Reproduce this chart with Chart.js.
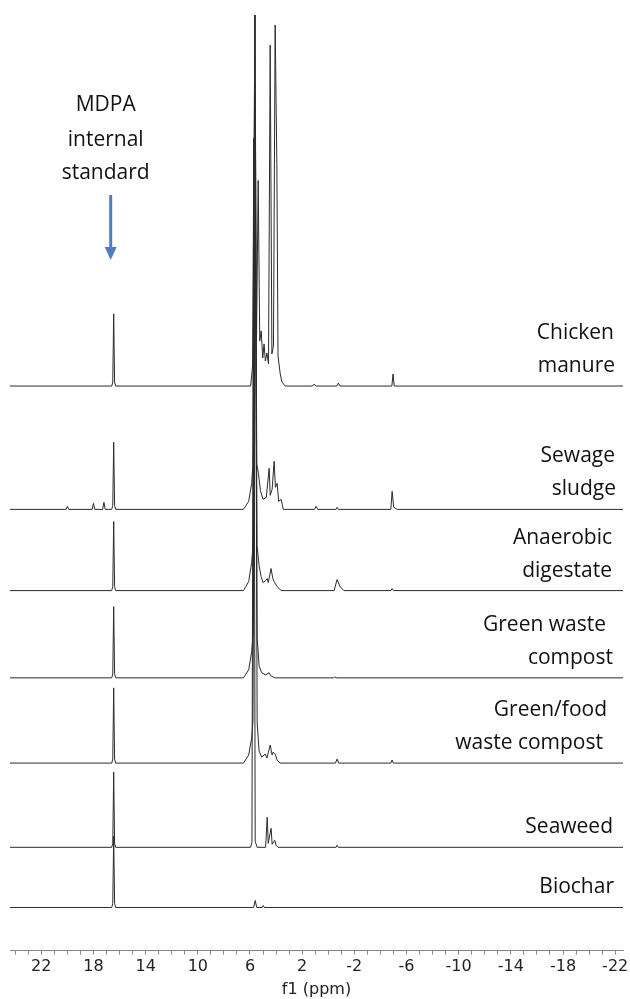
<!DOCTYPE html>
<html>
<head>
<meta charset="utf-8">
<script src="https://cdn.jsdelivr.net/npm/chart.js@4"></script>
<style>
  html, body { margin: 0; padding: 0; background: #fff; }
  #wrap { width: 630px; height: 999px; position: relative; }
</style>
</head>
<body>
<div id="wrap"><canvas id="nmrChart"></canvas></div>
<script>
// 31P NMR spectra, [ppm, intensity above own baseline]
const ppmRange = [-22.6, 24.4];
const tickLabels = [22, 18, 14, 10, 6, 2, -2, -6, -10, -14, -18, -22];

const sampleNames = ["Chicken manure", "Sewage sludge", "Anaerobic digestate",
  "Green waste compost", "Green/food waste compost", "Seaweed", "Biochar"];

const labelLines = [
  ["Chicken", "manure"],
  ["Sewage", "sludge"],
  ["Anaerobic", "digestate"],
  ["Green waste", "compost"],
  ["Green/food", "waste compost"],
  ["Seaweed"],
  ["Biochar"]
];

const chickenManure = [[24.4,0],[16.6,0],[16.52,4],[16.45,72],[16.38,4],[16.3,0],[5.95,0],[5.8,20],[5.62,370],[5.5,45],[5.37,205],[5.25,45],[5.14,55],[5.02,28],[4.92,42],[4.82,25],[4.7,33],[4.58,22],[4.45,340],[4.32,32],[4.2,40],[4.07,360],[3.94,222],[3.85,30],[3.68,12],[3.55,4],[3.3,0],[1.2,0],[1.08,2],[0.95,0],[-0.65,0],[-0.78,3],[-0.9,0],[-4.88,0],[-4.97,12],[-5.06,0],[-22.6,0]];
const sewageSludge = [[24.4,0],[20.1,0],[20.0,3],[19.9,0],[18.1,0],[18.0,6],[17.9,0],[17.3,0],[17.2,7],[17.1,0],[16.6,0],[16.52,4],[16.45,67],[16.38,4],[16.3,0],[6.5,0],[6.1,8],[5.87,26],[5.77,45],[5.62,493],[5.48,45],[5.35,36],[5.2,19],[5.0,10],[4.75,12],[4.53,41],[4.45,14],[4.3,20],[4.15,48],[4.05,22],[3.92,26],[3.8,8],[3.61,10],[3.45,0],[1.05,0],[0.93,3],[0.8,0],[-0.6,0],[-0.68,2],[-0.78,0],[-4.8,0],[-4.9,18],[-5.02,2],[-5.3,0],[-22.6,0]];
const anaerobicDigestate = [[24.4,0],[16.6,0],[16.52,4],[16.45,69],[16.38,4],[16.3,0],[6.5,0],[6.1,9],[5.87,28],[5.77,45],[5.6,451],[5.46,45],[5.3,25],[5.15,14],[5.0,8],[4.8,10],[4.68,12],[4.6,8],[4.38,22],[4.25,12],[4.15,9],[3.92,4],[3.6,0],[-0.45,0],[-0.68,11],[-0.9,4],[-1.2,0],[-4.8,0],[-4.9,2],[-5.0,0],[-22.6,0]];
const greenWasteCompost = [[24.4,0],[16.6,0],[16.52,4],[16.45,71],[16.38,4],[16.3,0],[6.5,0],[6.1,8],[5.87,26],[5.77,42],[5.58,456],[5.45,40],[5.3,12],[5.1,5],[4.8,3],[4.53,5],[4.4,2],[4.1,0],[-0.4,0],[-0.5,1],[-0.6,0],[-22.6,0]];
const greenFoodCompost = [[24.4,0],[16.6,0],[16.52,4],[16.45,75],[16.38,4],[16.3,0],[6.5,0],[6.1,8],[5.87,25],[5.77,42],[5.6,581],[5.45,40],[5.3,12],[5.1,6],[4.83,9],[4.7,5],[4.45,18],[4.3,8],[4.22,11],[4.07,9],[3.92,3],[3.7,0],[-0.55,0],[-0.68,4],[-0.8,0],[-4.8,0],[-4.9,3],[-5.0,0],[-22.6,0]];
const seaweed = [[24.4,0],[16.6,0],[16.52,4],[16.45,75],[16.38,4],[16.3,0],[5.95,0],[5.85,5],[5.72,707],[5.6,6],[5.45,0],[4.8,0],[4.68,30],[4.6,4],[4.38,19],[4.3,3],[4.1,7],[4.0,2],[3.85,0],[-0.6,0],[-0.68,2],[-0.78,0],[-22.6,0]];
const biochar = [[24.4,0],[16.6,0],[16.52,4],[16.45,71],[16.38,4],[16.3,0],[5.72,0],[5.6,7],[5.48,0],[5.05,0],[4.98,2],[4.9,0],[-22.6,0]];

const spectra = [chickenManure, sewageSludge, anaerobicDigestate, greenWasteCompost,
  greenFoodCompost, seaweed, biochar];

// vertical stacking of the traces (same units as intensity)
const stackOffsets = [563, 440, 359, 272, 187, 103, 43];
// right edge of each label line, px
const labelRight = [[614, 615], [615, 616], [612, 612], [606, 613], [607, 603], [613], [614]];

const annotations = {
  id: "annotations",
  afterDraw(chart) {
    const ctx = chart.ctx;
    const xs = chart.scales.x, ys = chart.scales.y;
    ctx.save();
    ctx.fillStyle = "#111";
    ctx.font = '21px "Open Sans"';
    ctx.textBaseline = "middle";
    ctx.textAlign = "right";
    labelLines.forEach((lines, i) => {
      const base = ys.getPixelForValue(stackOffsets[i]);
      const n = lines.length;
      lines.forEach((t, j) => {
        const dy = n === 2 ? (j === 0 ? -53 : -20) : -20;
        ctx.fillText(t, labelRight[i][j], base + dy);
      });
    });

    // MDPA note and arrow
    const px = xs.getPixelForValue(16.45);
    ctx.textAlign = "center";
    ctx.fillText("MDPA", px - 8, 105);
    ctx.fillText("internal", px - 8, 140);
    ctx.fillText("standard", px - 8, 173);
    const ax = px - 3;
    ctx.strokeStyle = "#4f7fbe";
    ctx.fillStyle = "#4f7fbe";
    ctx.lineWidth = 3;
    ctx.beginPath();
    ctx.moveTo(ax, 195);
    ctx.lineTo(ax, 250);
    ctx.stroke();
    ctx.beginPath();
    ctx.moveTo(ax - 6, 247);
    ctx.lineTo(ax + 6, 247);
    ctx.lineTo(ax, 260);
    ctx.closePath();
    ctx.fill();
    ctx.restore();
  }
};

function createSpectraChart() {
  const ctx = document.getElementById("nmrChart").getContext("2d");
  const datasets = spectra.map((s, i) => ({
    label: sampleNames[i],
    data: s.map(p => ({ x: p[0], y: p[1] + stackOffsets[i] })),
    borderColor: "#2b2b2b",
    borderWidth: 1,
    pointRadius: 0,
    tension: 0,
    fill: false
  }));

  new Chart(ctx, {
    type: "line",
    data: { datasets: datasets },
    options: {
      responsive: true,
      maintainAspectRatio: false,
      animation: false,
      layout: { padding: { left: 10, right: 7, top: 10, bottom: 0 } },
      plugins: { legend: { display: false }, tooltip: { enabled: false } },
      scales: {
        x: {
          type: "linear",
          reverse: true,
          min: ppmRange[0],
          max: ppmRange[1],
          afterBuildTicks: scale => {
            const t = [];
            for (let v = -22; v <= 24; v++) t.push({ value: v });
            scale.ticks = t;
          },
          ticks: {
            autoSkip: false,
            maxRotation: 0,
            padding: 3,
            color: "#222",
            font: { family: "DejaVu Sans", size: 16 },
            callback: v => (tickLabels.includes(v) ? String(v) : "")
          },
          grid: { drawOnChartArea: false, drawTicks: true, tickLength: 4, color: "#888" },
          border: { display: true, color: "#888", width: 1 },
          title: {
            display: true,
            text: "f1 (ppm)",
            color: "#222",
            font: { family: "DejaVu Sans", size: 16 },
            padding: { top: 0, bottom: 0 }
          }
        },
        y: { display: false, min: 0, max: 938 }
      }
    },
    plugins: [annotations]
  });
}

window.addEventListener("load", createSpectraChart);
</script>
</body>
</html>
